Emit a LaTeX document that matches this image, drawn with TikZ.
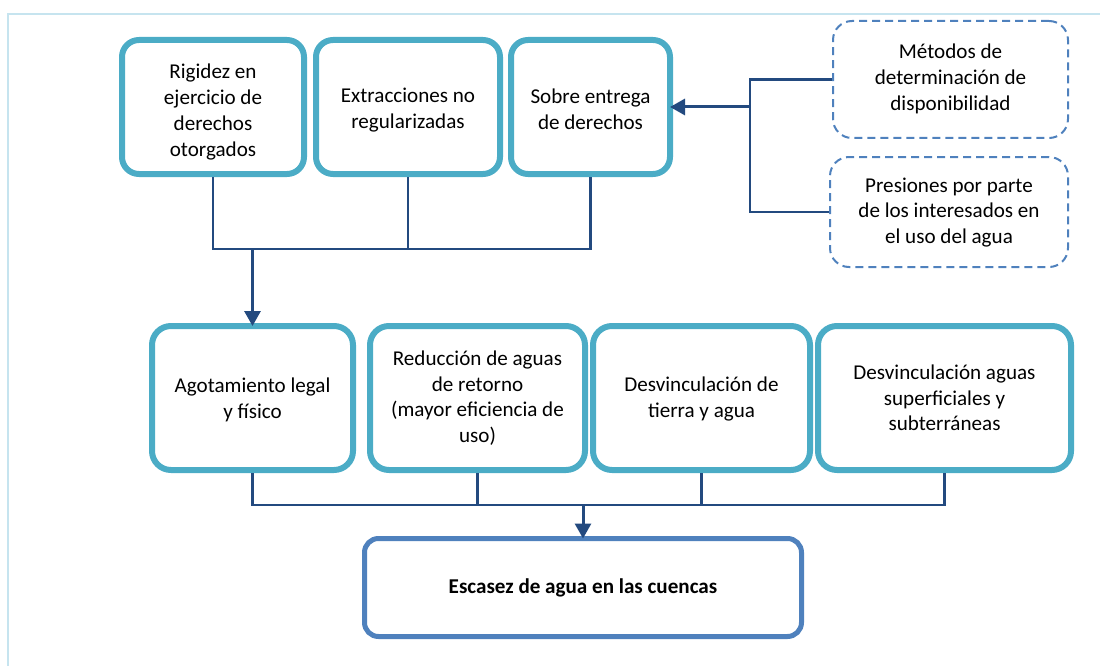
\documentclass[tikz,border=0pt]{standalone}
\usepackage{fontspec}
\setmainfont{Carlito}
\usetikzlibrary{arrows.meta}
\definecolor{boxcol}{HTML}{4BACC6}
\definecolor{linecol}{HTML}{234A7F}
\definecolor{dashcol}{HTML}{4F81BD}
\definecolor{framecol}{HTML}{C6E4EF}
\tikzset{
  txt/.style={align=center, font=\fontsize{21.1}{25.7}\selectfont, inner sep=0pt},
  topbox/.style={draw=boxcol, line width=6pt, rounded corners=17pt, minimum height=134pt, inner sep=0pt},
  midbox/.style={draw=boxcol, line width=6pt, rounded corners=19pt, minimum height=144pt, inner sep=0pt},
  finalbox/.style={draw=dashcol, line width=5pt, rounded corners=14pt, minimum width=437pt, minimum height=98pt, inner sep=0pt},
  dbox/.style={draw=dashcol, line width=2pt, dash pattern=on 8pt off 5pt, rounded corners=19pt, inner sep=0pt},
  conn/.style={draw=linecol, line width=2.2pt},
  arr/.style={draw=linecol, line width=3pt, -{Triangle[length=15pt,width=16pt]}, shorten >=-3pt},
}
\begin{document}
\begin{tikzpicture}[x=1pt,y=-1pt]
\useasboundingbox (0,0) rectangle (1100,666);
\draw[framecol, line width=2pt] (7.5,666) -- (7.5,14.5) -- (1100,14.5);

% top row
\node[topbox, minimum width=182pt] (t1) at (213,107) {};
\node[txt] (t1x) at ([yshift=-5pt]t1.center) {Rigidez en\\ejercicio de\\derechos\\otorgados};
\node[topbox, minimum width=184pt] (t2) at (408,107) {};
\node[txt] (t2x) at ([yshift=-3pt]t2.center) {Extracciones no\\regularizadas};
\node[topbox, minimum width=159pt] (t3) at (590.5,107) {};
\node[txt] (t3x) at ([yshift=-2pt]t3.center) {Sobre entrega\\de derechos};

% dashed boxes
\node[dbox, minimum width=235pt, minimum height=117pt] (dA) at (950.5,79.5) {};
\node[txt] (dAx) at ([yshift=0.5pt]dA.center) {Métodos de\\determinación de\\disponibilidad};
\node[dbox, minimum width=238pt, minimum height=110pt] (dB) at (949,212) {};
\node[txt] (dBx) at ([yshift=-0.5pt]dB.center) {Presiones por parte\\de los interesados en\\el uso del agua};

% middle row
\node[midbox, minimum width=201pt] (m1) at (252.5,398) {};
\node[txt] (m1x) at ([yshift=-2pt]m1.center) {Agotamiento legal\\y físico};
\node[midbox, minimum width=215pt] (m2) at (477.5,398) {};
\node[txt] (m2x) at (m2.center) {Reducción de aguas\\de retorno\\(mayor eficiencia de\\uso)};
\node[midbox, minimum width=217pt] (m3) at (701.5,398) {};
\node[txt] (m3x) at ([yshift=-1pt]m3.center) {Desvinculación de\\tierra y agua};
\node[midbox, minimum width=253pt] (m4) at (944.5,398) {};
\node[txt] (m4x) at (m4.center) {Desvinculación aguas\\superficiales y\\subterráneas};

% final
\node[finalbox] (f) at (583,587.5) {};
\node[txt, font=\fontsize{21.1}{25.7}\selectfont\bfseries] (fx) at ([yshift=-0.5pt]f.center) {Escasez de agua en las cuencas};

% top connectors
\coordinate (hy) at (0,249);
\draw[conn] (t1.south) -- (t1.south |- hy) -- (t3.south |- hy) -- (t3.south);
\draw[conn] (t2.south) -- (t2.south |- hy);
\draw[arr] (m1.north |- hy) -- (m1.north);

% right connectors
\coordinate (j) at (750,107);
\draw[conn] (dA.west) -| (j);
\draw[conn] (dB.west) -| (j);
\draw[arr] (j) -- (t3.east);

% bottom connectors
\coordinate (ly) at (0,505);
\draw[conn] (m1.south) -- (m1.south |- ly) -- (m4.south |- ly) -- (m4.south);
\draw[conn] (m2.south) -- (m2.south |- ly);
\draw[conn] (m3.south) -- (m3.south |- ly);
\draw[arr, shorten >=-2.5pt] (f.north |- ly) -- (f.north);
\end{tikzpicture}
\end{document}
